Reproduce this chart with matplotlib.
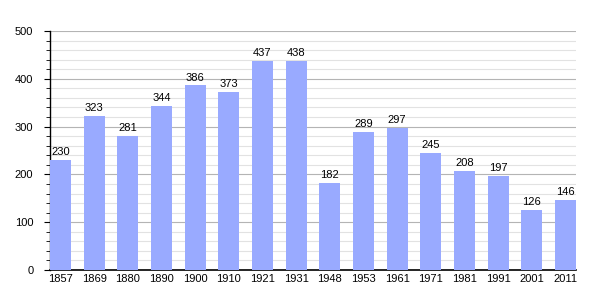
import numpy as np
import matplotlib
matplotlib.use("Agg")
import matplotlib.pyplot as plt
from matplotlib.ticker import MultipleLocator

# # # data # # #
years = ["1857", "1869", "1880", "1890", "1900", "1910", "1921", "1931",
         "1948", "1953", "1961", "1971", "1981", "1991", "2001", "2011"]
population = [230, 323, 281, 344, 386, 373, 437, 438,
              182, 289, 297, 245, 208, 197, 126, 146]

plt.rcParams['font.family'] = ['Liberation Sans', 'DejaVu Sans']

fig = plt.figure(figsize=(6.05, 3.0), dpi=100)
ax = fig.add_axes([50/605, 30/300, 526/605, 239/300])

bar_w = 0.62
x = np.arange(len(years))
ax.bar(x, population, width=bar_w, color="#99aaff", zorder=3)

# value labels
for xi, v in zip(x, population):
    ax.text(xi, v + 6, str(v), ha="center", va="bottom", fontsize=8, zorder=4)

ax.set_xlim(-bar_w/2, len(years) - 1 + bar_w/2)
ax.set_ylim(0, 500)
ax.set_xticks(x)
ax.set_xticklabels(years)
ax.yaxis.set_major_locator(MultipleLocator(100))
ax.yaxis.set_minor_locator(MultipleLocator(20))

# grid
ax.grid(axis="y", which="major", color="#b4b4b4", linewidth=0.8, zorder=0)
ax.grid(axis="y", which="minor", color="#e2e2e2", linewidth=0.8, zorder=0)

for s in ["top", "right"]:
    ax.spines[s].set_visible(False)
ax.spines["left"].set_linewidth(1.0)
ax.spines["bottom"].set_linewidth(1.2)

ax.tick_params(axis="y", which="major", length=4, labelsize=8, pad=8)
ax.tick_params(axis="y", which="minor", length=3)
ax.tick_params(axis="x", length=0, labelsize=8, pad=3)

fig.savefig("out.png", dpi=100)
